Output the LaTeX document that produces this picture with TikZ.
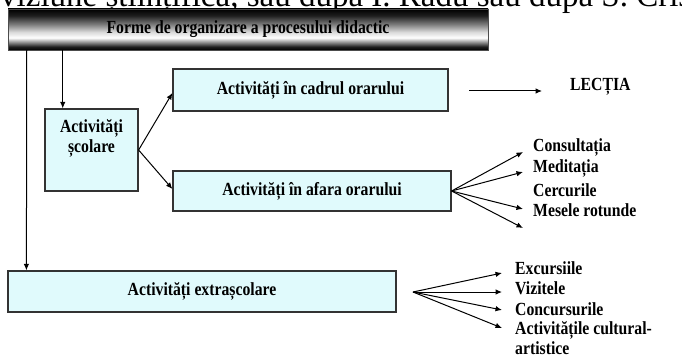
\documentclass[tikz,border=0pt]{standalone}
\usepackage{fontspec}
\setmainfont{Liberation Serif}
\newfontfamily\tbfam[FakeStretch=0.85]{Liberation Serif}
\usetikzlibrary{arrows.meta}
\definecolor{boxfill}{RGB}{224,250,252}
\pgfdeclareverticalshading{barshade}{100bp}{color(0bp)=(black); color(25bp)=(black); color(29bp)=(black!88); color(40bp)=(white); color(47bp)=(white!85!black); color(56bp)=(black!50); color(67bp)=(black!88); color(75bp)=(black); color(100bp)=(black)}
\newcommand\myboldtxt{\tbfam\bfseries\fontsize{18.5}{20}\selectfont}
\tikzset{
  box/.style={draw=black!80, line width=1.2pt, fill=boxfill, inner sep=0pt, font=\myboldtxt, align=center},
  titlebar/.style={shade, shading=barshade, draw=black!70, line width=0.5pt, inner sep=0pt, font=\myboldtxt, minimum width=480pt, minimum height=41pt},
  lbl/.style={inner sep=0pt, font=\myboldtxt, anchor=west, align=left},
  arr/.style={-{Latex[length=6.5pt,width=5.5pt]}, line width=1pt, black}
}
\begin{document}
\begin{tikzpicture}[x=1pt,y=-1pt]
\useasboundingbox (0,0) rectangle (682,358);
\clip (0,0) rectangle (682,358);
% cropped line of text at top
\node[anchor=base west, inner sep=0pt, font=\fontsize{33}{36}\selectfont] (toptxt) at (0,6.8) {viziune științifică, sau după I. Radu sau după S. Cristea};
% title bar
\node[titlebar] (bar) at (248,29.5) {Forme de organizare a procesului didactic};
% boxes
\node[box, minimum width=93pt, minimum height=82pt] (scolare) at (91.5,150) {};
\node[inner sep=0pt, font=\myboldtxt, align=center] (scolaretxt) at (91.5,138) {Activități\\școlare};
\node[box, minimum width=275pt, minimum height=42pt] (cadrul) at (310.5,90) {Activități în cadrul orarului};
\node[box, minimum width=278pt, minimum height=40pt] (afara) at (312,191) {Activități în afara orarului};
\node[box, minimum width=388pt, minimum height=41pt] (extra) at (202,291.5) {Activități extrașcolare};
% right-hand labels
\node[lbl] (lectia) at (570,87) {LECȚIA};
\node[lbl] (cons) at (533,147) {Consultația};
\node[lbl] (medi) at (533,168) {Meditația};
\node[lbl] (cerc) at (533,190) {Cercurile};
\node[lbl] (mese) at (533,210) {Mesele rotunde};
\node[lbl] (exc) at (515,268) {Excursiile};
\node[lbl] (viz) at (515,288) {Vizitele};
\node[lbl] (conc) at (515,309) {Concursurile};
\node[lbl] (cult) at (515,338.5) {Activitățile cultural-\\artistice};
% free ends
\coordinate (lstart) at (469,91);
\coordinate (lend) at (542,91);
\coordinate (afempty) at (523,228);
\coordinate (exorig) at (413,292);
% vertical connectors from the title bar
\draw[arr] ([xshift=19pt]bar.south west) -- ([xshift=19pt]extra.north west);
\draw[arr] ([xshift=55pt]bar.south west) -- ([xshift=55pt]bar.south west |- scolare.north);
% scolare to the two boxes
\draw[arr] (scolare.east) -- ([yshift=-3pt]cadrul.west);
\draw[arr] (scolare.east) -- ([yshift=2pt]afara.west);
% cadrul to LECTIA
\draw[arr] (lstart) -- (lend);
% afara fan
\draw[arr] (afara.east) -- ([xshift=-10pt,yshift=-5pt]cons.west);
\draw[arr] (afara.east) -- ([xshift=-10pt,yshift=-4pt]medi.west);
\draw[arr] (afara.east) -- ([xshift=-10pt,yshift=1pt]mese.west);
\draw[arr] (afara.east) -- (afempty);
% extrascolare fan
\draw[arr] (exorig) -- ([xshift=-13pt,yshift=-5pt]exc.west);
\draw[arr] (exorig) -- ([xshift=-13pt,yshift=-4pt]viz.west);
\draw[arr] (exorig) -- ([xshift=-13pt,yshift=-1pt]conc.west);
\draw[arr] (exorig) -- ([xshift=-13pt,yshift=10.5pt]cult.west);
\end{tikzpicture}
\end{document}
